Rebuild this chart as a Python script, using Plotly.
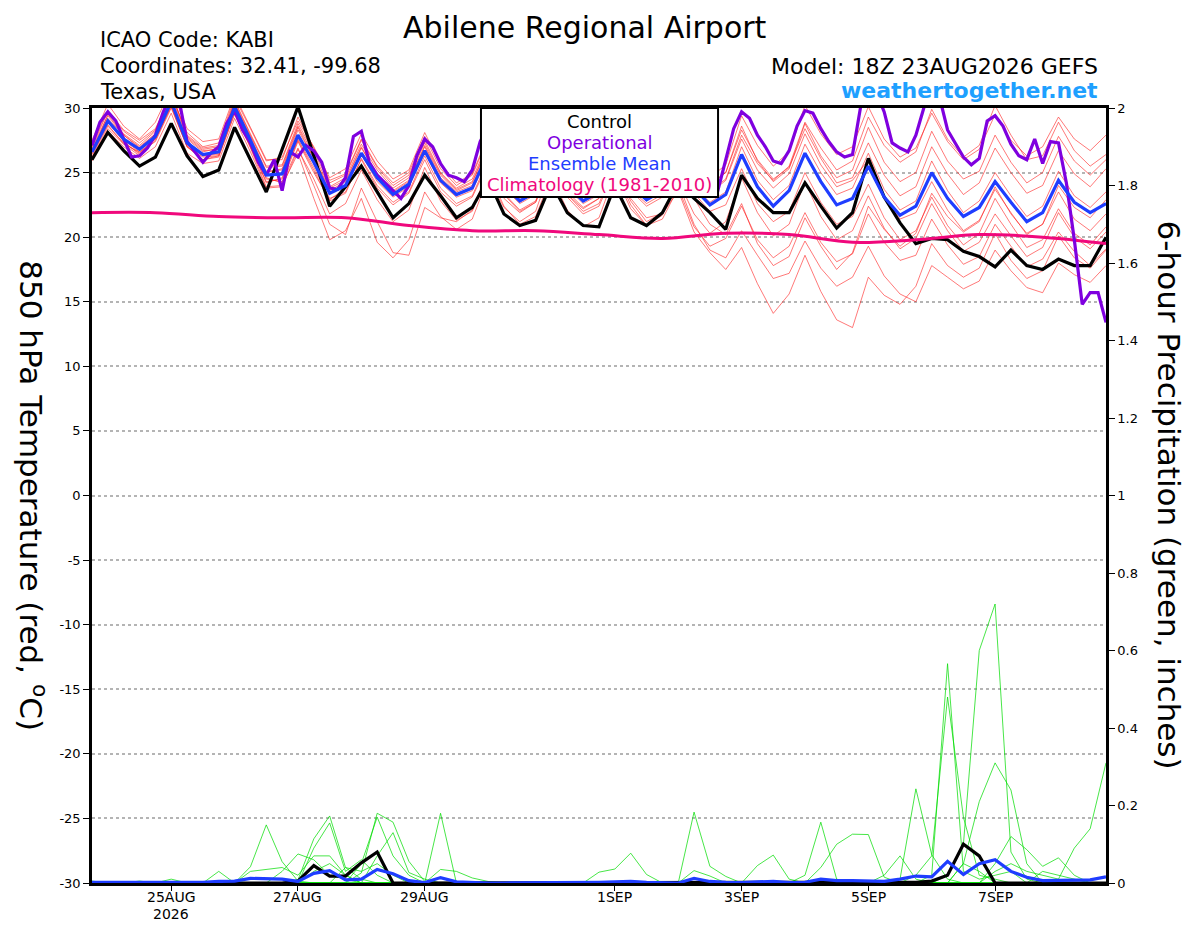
import pandas as pd
import plotly.graph_objects as go

# 6-hourly GEFS output from 23AUG2026 18Z, operational run every 3 hours
times6 = pd.date_range("2026-08-23 18:00", periods=65, freq="6h")
times3 = pd.date_range("2026-08-23 18:00", periods=129, freq="3h")
times24 = pd.date_range("2026-08-23 18:00", periods=17, freq="24h")

control_t = [26.0, 28.1, 26.7, 25.5, 26.2, 28.8, 26.3, 24.7, 25.2, 28.5,
             26.0, 23.5, 26.8, 30.1, 26.3, 22.4, 23.9, 25.5, 23.5, 21.5,
             22.6, 24.8, 23.2, 21.5, 22.3, 24.5, 21.8, 20.9, 21.3, 24.2,
             21.9, 20.9, 20.8, 24.0, 21.5, 20.9, 21.9, 24.2, 23.0, 21.9,
             20.6, 24.8, 23.0, 21.9, 21.9, 24.2, 22.4, 20.7, 21.9, 26.1,
             23.1, 21.1, 19.5, 19.9, 19.8, 18.9, 18.5, 17.7, 19.0, 17.8,
             17.5, 18.3, 17.8, 17.8, 20.0]

mean_t = [26.6, 29.0, 27.6, 26.8, 27.8, 30.5, 27.3, 26.4, 26.6, 30.1,
          27.5, 24.8, 24.9, 27.9, 25.8, 23.4, 24.0, 26.5, 24.6, 23.3,
          24.1, 26.7, 24.4, 23.3, 23.8, 26.5, 24.0, 22.8, 23.5, 26.5,
          24.0, 22.8, 23.5, 26.5, 24.0, 22.9, 23.6, 26.2, 23.8, 22.5,
          23.3, 26.4, 23.9, 22.4, 23.6, 26.5, 24.3, 22.5, 23.0, 25.5,
          23.1, 21.7, 22.4, 25.0, 23.0, 21.6, 22.3, 24.3, 22.7, 21.2,
          21.9, 24.4, 22.7, 21.9, 22.6]

oper_t = [27.1, 28.9, 29.7, 29.0, 27.6, 26.2, 26.3, 26.9, 27.9, 29.7,
          31.0, 30.6, 27.4, 26.6, 25.8, 26.5, 27.0, 28.8, 29.8, 28.3,
          27.3, 25.8, 24.8, 26.0, 23.6, 26.6, 26.2, 27.1, 26.7, 25.8,
          23.8, 23.7, 24.6, 27.8, 28.2, 25.8, 24.8, 24.2, 23.6, 23.0,
          24.0, 26.3, 27.6, 27.0, 25.7, 24.8, 24.6, 24.3, 25.2, 27.4,
          28.6, 28.0, 26.8, 25.9, 25.4, 25.2, 25.8, 27.2, 28.4, 28.0,
          26.9, 26.0, 25.6, 25.4, 25.9, 27.0, 28.1, 27.6, 26.5, 25.7,
          25.3, 25.1, 25.6, 26.8, 27.9, 27.3, 26.2, 25.0, 24.0, 23.6,
          25.9, 28.4, 29.7, 29.2, 27.9, 27.0, 25.9, 25.7, 26.7, 28.6,
          29.8, 29.6, 28.4, 27.4, 26.6, 26.2, 26.4, 30.0, 31.5, 31.2,
          29.7, 27.3, 26.9, 26.6, 27.9, 30.0, 31.5, 30.8, 28.3, 27.2,
          26.2, 25.6, 26.1, 29.0, 29.4, 28.6, 27.2, 26.3, 26.0, 27.6,
          25.7, 27.4, 27.3, 24.2, 19.8, 14.8, 15.7, 15.7, 13.4]

clim_t = [21.9, 21.9, 21.6, 21.5, 21.5, 20.9, 20.5, 20.5, 20.2,
          19.9, 20.3, 20.2, 19.6, 19.8, 20.2, 20.0, 19.5]

member_a = [27.2, 29.8, 28.3, 27.5, 28.4, 31.0, 28.1, 27.0, 27.3, 30.8, 28.4, 25.9, 26.2, 29.0, 27.0, 24.6, 25.3,
            28.0, 25.9, 24.5, 25.2, 28.1, 25.6, 24.2, 24.9, 27.8, 25.1, 23.9, 24.6, 27.9, 25.4, 24.0, 24.8,
            28.3, 25.6, 24.3, 25.0, 28.4, 25.8, 24.1, 25.0, 28.6, 25.9, 24.3, 25.3, 28.8, 26.3, 24.6, 25.2,
            28.5, 25.8, 24.3, 25.0, 28.2, 25.9, 24.5, 25.1, 27.9, 25.8, 24.2, 25.0, 27.8, 25.9, 24.8, 26.0]
member_b = [26.0, 28.2, 27.0, 26.1, 27.0, 29.6, 26.5, 25.7, 25.9, 29.2, 26.6, 23.8, 23.9, 26.8, 24.5, 21.8, 22.6,
            25.2, 22.9, 21.2, 22.1, 25.4, 22.8, 21.3, 22.0, 25.1, 22.4, 21.0, 21.6, 24.7, 22.1, 20.8, 21.5,
            24.9, 22.2, 20.9, 21.7, 24.4, 21.8, 20.3, 21.2, 24.6, 21.9, 20.1, 21.0, 24.3, 21.6, 19.8, 20.5,
            23.2, 20.7, 19.1, 19.9, 22.6, 20.5, 18.9, 19.6, 21.8, 20.1, 18.5, 19.2, 21.9, 20.0, 19.1, 20.4]
member_c = [26.4, 28.7, 27.2, 26.3, 27.5, 30.2, 27.0, 26.0, 26.2, 29.6, 26.9, 23.9, 24.0, 26.5, 23.0, 19.8, 20.5,
            23.0, 19.6, 18.4, 19.8, 23.5, 21.6, 20.6, 21.4, 24.6, 22.3, 21.2, 22.0, 25.5, 23.3, 22.2, 23.0,
            26.0, 23.6, 22.4, 23.1, 25.8, 23.0, 21.0, 20.2, 22.6, 19.5, 17.8, 18.5, 21.5, 19.3, 17.5, 18.8,
            22.4, 20.6, 19.3, 20.3, 23.4, 21.6, 20.4, 21.2, 23.9, 21.8, 20.3, 21.0, 23.5, 21.4, 20.5, 21.8]
member_d = [26.8, 29.2, 27.9, 27.0, 28.0, 30.6, 27.6, 26.6, 26.9, 30.3, 27.8, 25.1, 25.2, 28.3, 26.1, 23.6, 24.3,
            26.9, 24.9, 23.6, 24.4, 27.0, 24.6, 23.5, 24.0, 26.8, 24.2, 23.0, 23.7, 26.9, 24.1, 22.9, 23.2,
            25.8, 23.0, 21.5, 21.8, 23.6, 20.4, 18.8, 17.5, 19.2, 16.4, 14.1, 15.6, 18.6, 15.8, 13.6, 13.0,
            16.9, 15.5, 14.8, 16.2, 19.5, 17.8, 16.9, 17.6, 20.3, 18.2, 16.8, 17.4, 20.1, 18.4, 17.6, 19.0]
member_e = [25.9, 28.4, 27.2, 26.6, 27.4, 30.0, 27.0, 26.0, 26.3, 29.8, 27.0, 24.3, 24.5, 27.5, 25.2, 22.8, 23.4,
            26.1, 24.0, 22.7, 23.5, 26.3, 23.8, 22.6, 23.2, 26.0, 23.4, 22.1, 22.8, 25.8, 23.3, 22.0, 22.6,
            25.5, 22.8, 21.2, 21.9, 24.2, 21.0, 19.0, 18.4, 20.5, 18.6, 16.8, 17.2, 19.7, 17.6, 16.2, 16.9,
            19.3, 17.0, 15.6, 15.0, 17.8, 16.9, 16.0, 16.6, 19.0, 17.4, 16.1, 15.7, 18.0, 17.1, 16.5, 17.8]
member_f = [27.5, 30.3, 28.6, 27.6, 28.9, 31.5, 28.4, 27.4, 27.6, 31.0, 28.5, 26.0, 26.0, 29.3, 26.9, 24.4, 24.9,
            27.6, 25.5, 24.2, 25.0, 27.8, 25.3, 24.0, 24.8, 27.6, 25.2, 23.9, 24.7, 27.6, 25.3, 24.0, 24.6,
            27.8, 25.4, 24.1, 24.9, 28.0, 25.9, 24.6, 25.6, 29.4, 27.1, 25.5, 26.6, 30.2, 28.0, 26.4, 27.0,
            30.1, 27.6, 26.2, 26.9, 29.6, 27.4, 26.0, 26.8, 29.5, 27.5, 26.3, 27.0, 29.3, 27.6, 26.7, 27.9]
member_g = [26.2, 28.9, 27.4, 26.4, 27.7, 30.4, 27.1, 26.3, 26.4, 29.9, 27.2, 24.5, 24.3, 27.4, 25.0, 22.9, 23.8,
            26.4, 24.3, 23.1, 23.9, 26.6, 24.2, 23.1, 23.6, 26.3, 23.8, 22.6, 23.3, 26.4, 23.8, 22.6, 23.3,
            26.4, 23.9, 22.8, 23.6, 26.4, 23.9, 22.7, 23.5, 27.0, 24.4, 22.9, 24.0, 27.2, 25.0, 23.3, 23.8,
            26.5, 23.7, 22.1, 22.8, 25.9, 23.6, 21.9, 22.8, 25.0, 23.2, 21.6, 22.4, 25.1, 23.2, 22.3, 23.5]
member_h = [26.5, 29.5, 28.0, 27.1, 28.2, 31.2, 27.8, 26.8, 27.0, 30.5, 27.9, 25.4, 25.5, 28.6, 26.4, 23.9, 24.6,
            27.2, 25.2, 23.8, 24.6, 27.3, 24.9, 23.7, 24.3, 27.1, 24.7, 23.4, 24.2, 27.2, 24.6, 23.4, 24.1,
            27.0, 24.5, 23.4, 24.3, 27.1, 24.6, 23.4, 24.4, 27.6, 25.2, 23.8, 24.9, 28.0, 25.6, 23.9, 24.4,
            26.0, 23.2, 21.4, 21.9, 24.3, 22.1, 20.5, 21.3, 23.7, 21.9, 20.2, 21.0, 24.0, 22.3, 21.5, 22.9]
member_i = [26.1, 28.6, 27.3, 26.5, 27.6, 30.1, 27.0, 26.2, 26.3, 29.5, 27.0, 24.2, 24.6, 27.6, 25.4, 23.0, 23.5,
            26.0, 23.8, 22.5, 23.4, 26.0, 23.5, 22.4, 23.1, 25.7, 23.3, 22.0, 22.7, 25.6, 23.1, 21.8, 22.4,
            25.2, 22.5, 20.9, 21.4, 23.8, 20.8, 19.3, 19.9, 22.4, 19.8, 18.4, 19.3, 21.9, 19.6, 18.1, 18.7,
            21.8, 19.6, 18.2, 18.6, 21.4, 19.4, 17.9, 18.5, 21.0, 19.3, 17.7, 18.3, 20.4, 18.9, 17.8, 19.1]
member_j = [26.9, 29.4, 27.9, 26.9, 28.0, 30.9, 27.7, 26.7, 26.8, 30.4, 27.6, 25.0, 25.3, 28.5, 26.1, 23.8, 24.4,
            27.0, 24.8, 23.5, 24.3, 27.1, 24.8, 23.6, 24.2, 27.0, 24.6, 23.3, 24.0, 27.1, 24.6, 23.3, 24.0,
            27.2, 24.7, 23.5, 24.2, 27.3, 24.9, 23.6, 24.5, 27.9, 25.7, 24.4, 25.5, 28.9, 26.9, 25.2, 25.9,
            29.3, 27.1, 25.8, 26.6, 29.9, 27.6, 26.2, 27.1, 30.2, 27.9, 26.0, 26.3, 28.9, 26.7, 25.5, 26.4]
member_k = [26.7, 29.1, 27.5, 26.6, 27.6, 30.3, 27.3, 26.3, 26.5, 29.8, 27.1, 24.6, 24.2, 26.9, 24.0, 21.0, 20.2,
            23.8, 21.2, 18.8, 18.6, 22.3, 21.5, 21.2, 22.1, 25.2, 23.0, 21.9, 22.7, 25.9, 23.5, 22.3, 23.0,
            26.1, 23.7, 22.6, 23.3, 26.0, 23.4, 22.0, 22.5, 25.3, 22.6, 21.2, 22.0, 25.0, 22.7, 21.0, 21.6,
            24.1, 21.5, 19.8, 20.5, 23.1, 20.9, 19.4, 20.3, 23.0, 21.0, 19.2, 19.8, 22.2, 20.3, 19.4, 20.8]
member_l = [27.0, 29.7, 28.2, 27.3, 28.3, 31.1, 27.9, 26.9, 27.1, 30.6, 28.0, 25.5, 25.6, 28.8, 26.6, 24.2, 24.8,
            27.5, 25.4, 24.0, 24.8, 27.5, 25.0, 23.8, 24.5, 27.3, 24.9, 23.6, 24.4, 27.4, 24.9, 23.7, 24.4,
            27.5, 25.1, 23.9, 24.6, 27.6, 25.3, 24.1, 25.0, 28.3, 26.0, 24.5, 25.4, 28.4, 26.1, 24.2, 24.6,
            27.3, 24.8, 23.2, 23.9, 27.0, 24.9, 23.3, 24.2, 26.9, 25.0, 23.4, 24.0, 26.7, 24.9, 23.9, 25.3]
members_t = [member_a, member_b, member_c, member_d, member_e, member_f,
             member_g, member_h, member_i, member_j, member_k, member_l]

# 6-hour precipitation (inches)
control_p = [0, 0, 0, 0, 0, 0, 0, 0, 0, 0,
             0, 0, 0, 0.005, 0.045, 0.018, 0.018, 0.052, 0.08, 0,
             0, 0, 0, 0, 0, 0, 0, 0, 0, 0,
             0, 0, 0, 0, 0, 0, 0, 0, 0, 0,
             0, 0, 0, 0, 0, 0, 0, 0, 0, 0,
             0, 0, 0.002, 0.005, 0.02, 0.1, 0.07, 0, 0, 0,
             0, 0, 0, 0, 0]
mean_p = [0.002, 0.002, 0.001, 0.002, 0.001, 0.003, 0.001, 0.002, 0.004, 0.005,
          0.012, 0.012, 0.01, 0.004, 0.025, 0.032, 0.008, 0.01, 0.035, 0.024,
          0.006, 0.001, 0.014, 0.003, 0.001, 0, 0, 0, 0, 0,
          0, 0, 0.002, 0.003, 0.004, 0.002, 0, 0, 0.012, 0.004,
          0.002, 0.001, 0.003, 0.004, 0.001, 0.002, 0.01, 0.006, 0.006, 0.006,
          0.004, 0.01, 0.018, 0.016, 0.056, 0.022, 0.05, 0.06, 0.03, 0.015,
          0.006, 0.007, 0.007, 0.008, 0.016]

precip_1 = [0.005, 0, 0, 0, 0, 0.01, 0, 0, 0.03, 0,
            0.042, 0.15, 0.055, 0.005, 0, 0, 0, 0, 0, 0,
            0, 0, 0, 0, 0, 0, 0, 0, 0, 0,
            0, 0, 0.028, 0.036, 0.077, 0.022, 0, 0, 0, 0,
            0, 0, 0, 0, 0, 0, 0, 0, 0, 0,
            0, 0, 0, 0, 0, 0, 0, 0, 0, 0,
            0, 0, 0, 0, 0]
precip_2 = [0, 0, 0, 0, 0, 0, 0, 0, 0, 0,
            0, 0, 0.03, 0.075, 0.06, 0.02, 0.01, 0, 0, 0,
            0, 0, 0, 0, 0, 0, 0, 0, 0, 0,
            0, 0, 0, 0, 0, 0, 0, 0, 0.183, 0.043,
            0.017, 0, 0, 0, 0, 0, 0, 0, 0, 0,
            0, 0, 0, 0, 0, 0, 0, 0, 0, 0,
            0, 0, 0, 0, 0]
precip_3 = [0, 0, 0, 0, 0, 0, 0, 0, 0, 0,
            0, 0, 0, 0.008, 0.114, 0.173, 0.04, 0.01, 0, 0,
            0, 0, 0, 0, 0, 0, 0, 0, 0, 0,
            0, 0, 0, 0, 0, 0, 0, 0, 0.032, 0.018,
            0, 0, 0.045, 0.072, 0.01, 0, 0, 0, 0, 0,
            0, 0, 0, 0, 0, 0, 0, 0, 0, 0,
            0, 0, 0, 0, 0]
precip_4 = [0, 0, 0, 0, 0, 0, 0, 0, 0, 0,
            0, 0, 0, 0, 0.09, 0.155, 0.03, 0.06, 0.02, 0,
            0, 0, 0, 0, 0, 0, 0, 0, 0, 0,
            0, 0, 0, 0, 0, 0, 0, 0, 0, 0,
            0, 0, 0, 0, 0, 0.02, 0.157, 0.01, 0, 0,
            0, 0, 0, 0, 0, 0, 0, 0, 0, 0,
            0, 0, 0, 0, 0]
precip_5 = [0, 0, 0, 0, 0, 0, 0, 0, 0, 0,
            0.03, 0.035, 0.04, 0.02, 0.07, 0.07, 0.02, 0, 0, 0,
            0, 0, 0, 0, 0, 0, 0, 0, 0, 0,
            0, 0, 0, 0, 0, 0, 0, 0, 0, 0,
            0, 0, 0, 0, 0, 0, 0.04, 0.10, 0.126, 0.125,
            0.015, 0, 0, 0, 0, 0, 0, 0, 0, 0,
            0, 0, 0, 0, 0]
precip_6 = [0, 0, 0, 0, 0, 0, 0, 0, 0, 0,
            0, 0, 0, 0, 0, 0, 0, 0.026, 0.18, 0.157,
            0.056, 0.004, 0, 0, 0, 0, 0, 0, 0, 0,
            0, 0, 0, 0, 0, 0, 0, 0, 0, 0,
            0, 0, 0, 0, 0, 0, 0, 0, 0, 0,
            0.02, 0.07, 0.01, 0, 0, 0.05, 0.03, 0, 0, 0,
            0.03, 0.02, 0.01, 0, 0]
precip_7 = [0, 0, 0, 0, 0, 0, 0, 0, 0, 0,
            0, 0, 0, 0, 0, 0, 0, 0.05, 0.17, 0.07,
            0.02, 0, 0, 0, 0, 0, 0, 0, 0, 0,
            0, 0, 0, 0, 0, 0, 0, 0, 0, 0,
            0, 0, 0, 0, 0, 0, 0, 0, 0, 0,
            0, 0.01, 0.243, 0.073, 0.01, 0, 0, 0.05, 0.12, 0.086,
            0.043, 0.065, 0.02, 0, 0]
precip_8 = [0, 0, 0, 0, 0, 0, 0, 0, 0, 0,
            0, 0, 0, 0, 0, 0, 0, 0, 0.07, 0.13,
            0.027, 0.01, 0, 0, 0, 0, 0, 0, 0, 0,
            0, 0, 0, 0, 0, 0, 0, 0, 0, 0,
            0, 0, 0, 0, 0, 0, 0, 0, 0, 0,
            0, 0, 0, 0.02, 0.566, 0.03, 0.01, 0.02, 0.03, 0,
            0, 0, 0, 0, 0]
precip_9 = [0, 0, 0, 0, 0, 0, 0, 0, 0, 0,
            0, 0, 0, 0, 0, 0, 0, 0, 0, 0,
            0, 0, 0.18, 0, 0, 0, 0, 0, 0, 0,
            0, 0, 0, 0, 0, 0, 0, 0, 0, 0,
            0, 0, 0, 0, 0, 0, 0, 0, 0, 0,
            0, 0, 0.02, 0.07, 0.48, 0.17, 0.02, 0.01, 0, 0,
            0, 0, 0, 0, 0]
precip_10 = [0, 0, 0, 0, 0, 0, 0, 0, 0, 0,
             0, 0, 0, 0, 0, 0, 0, 0, 0, 0,
             0, 0, 0.035, 0.03, 0.013, 0.004, 0, 0, 0, 0,
             0, 0, 0, 0, 0, 0, 0, 0, 0, 0,
             0, 0, 0, 0, 0, 0, 0, 0, 0, 0,
             0, 0, 0, 0, 0.02, 0.1, 0.60, 0.72, 0.08, 0.01,
             0, 0, 0, 0, 0]
precip_11 = [0, 0.003, 0, 0.005, 0, 0, 0, 0, 0, 0.004,
             0, 0, 0, 0, 0, 0, 0.04, 0.03, 0.05, 0.02,
             0, 0, 0, 0, 0, 0, 0, 0, 0, 0,
             0, 0, 0, 0, 0, 0, 0, 0, 0, 0,
             0, 0, 0, 0, 0, 0, 0, 0, 0, 0,
             0, 0, 0, 0, 0, 0.05, 0.21, 0.31, 0.24, 0.05,
             0, 0, 0, 0, 0]
precip_12 = [0, 0, 0, 0, 0, 0, 0, 0, 0, 0,
             0, 0, 0, 0, 0.03, 0.05, 0.02, 0, 0, 0,
             0, 0, 0, 0, 0, 0, 0, 0, 0, 0,
             0, 0, 0, 0, 0, 0, 0, 0, 0, 0,
             0, 0, 0, 0, 0, 0, 0, 0, 0, 0,
             0, 0, 0, 0, 0, 0, 0, 0.03, 0.05, 0.03,
             0.02, 0.01, 0.09, 0.14, 0.31]
members_p = [precip_1, precip_2, precip_3, precip_4, precip_5, precip_6,
             precip_7, precip_8, precip_9, precip_10, precip_11, precip_12]

date_ticks = ["2026-08-25", "2026-08-27", "2026-08-29", "2026-09-01",
              "2026-09-03", "2026-09-05", "2026-09-07"]
date_labels = ["25AUG", "27AUG", "29AUG", "1SEP", "3SEP", "5SEP", "7SEP"]
year_label = "2026"
temp_ticks = [-30, -25, -20, -15, -10, -5, 0, 5, 10, 15, 20, 25, 30]
temp_labels = ["-30", "-25", "-20", "-15", "-10", "-5", "0", "5", "10", "15", "20", "25", "30"]
precip_ticks = [0, 0.2, 0.4, 0.6, 0.8, 1, 1.2, 1.4, 1.6, 1.8, 2]
precip_labels = ["0", "0.2", "0.4", "0.6", "0.8", "1", "1.2", "1.4", "1.6", "1.8", "2"]

legend_lines = ["Control", "Operational", "Ensemble Mean", "Climatology (1981-2010)"]

FONT = "DejaVu Sans"
RED = "rgba(255,30,30,0.75)"
GREEN = "rgba(0,220,0,0.9)"
PURPLE = "#7f00df"
BLUE = "#1f3dff"
PINK = "#f0087c"
WEB = "#1ea0ff"
legend_colors = ["black", PURPLE, BLUE, PINK]

fig = go.Figure()

for m in members_t:
    fig.add_trace(go.Scatter(x=times6, y=m, mode="lines",
                             line=dict(color=RED, width=0.8)))
fig.add_trace(go.Scatter(x=times6, y=control_t, mode="lines",
                         line=dict(color="black", width=3.2)))
fig.add_trace(go.Scatter(x=times24, y=clim_t, mode="lines",
                         line=dict(color=PINK, width=3, shape="spline")))
fig.add_trace(go.Scatter(x=times3, y=oper_t, mode="lines",
                         line=dict(color=PURPLE, width=3.2)))
fig.add_trace(go.Scatter(x=times6, y=mean_t, mode="lines",
                         line=dict(color=BLUE, width=3.2)))

for p in members_p:
    fig.add_trace(go.Scatter(x=times6, y=p, mode="lines", yaxis="y2",
                             line=dict(color=GREEN, width=0.8)))
fig.add_trace(go.Scatter(x=times6, y=control_p, mode="lines", yaxis="y2",
                         line=dict(color="black", width=3.2)))
fig.add_trace(go.Scatter(x=times6, y=mean_p, mode="lines", yaxis="y2",
                         line=dict(color=BLUE, width=3.2)))

# the page body adds an 8px margin, so the figure is 8px smaller on each side
fig.update_layout(
    width=1192, height=919,
    margin=dict(l=84, r=94, t=100, b=44, autoexpand=False),
    paper_bgcolor="white", plot_bgcolor="white",
    showlegend=False,
    font=dict(family=FONT, color="black"),
    xaxis=dict(type="date", range=[times6[0], times6[-1]],
               tickvals=date_ticks, showticklabels=False,
               ticks="outside", ticklen=5,
               tickcolor="black", showgrid=False, zeroline=False,
               showline=True, linecolor="black", linewidth=2.5, mirror=True),
    yaxis=dict(range=[-30, 30], tickvals=temp_ticks, ticktext=temp_labels,
               tickfont=dict(size=13), ticks="outside", ticklen=6,
               tickcolor="black", showgrid=True, gridcolor="#b4b4b4",
               griddash="dot", gridwidth=1.5, zeroline=False,
               showline=True, linecolor="black", linewidth=2.5),
    yaxis2=dict(range=[0, 2], overlaying="y", side="right",
                tickvals=precip_ticks, ticktext=precip_labels,
                tickfont=dict(size=13), ticks="outside", ticklen=6,
                tickcolor="black", showgrid=False, zeroline=False,
                showline=True, linecolor="black", linewidth=2.5),
)

# date labels under the ticks, with the year under the first one
for d, lab in zip(date_ticks, date_labels):
    fig.add_annotation(text=lab, xref="x", yref="paper",
                       x=d, y=-0.018, xanchor="center", yanchor="middle",
                       showarrow=False, font=dict(size=14))
fig.add_annotation(text=year_label, xref="x", yref="paper",
                   x=date_ticks[0], y=-0.04, xanchor="center", yanchor="middle",
                   showarrow=False, font=dict(size=14))

# header text
fig.add_annotation(text="Abilene Regional Airport", xref="paper", yref="paper",
                   x=0.486, y=1.129, xanchor="center", yanchor="top",
                   showarrow=False, font=dict(size=30))
fig.add_annotation(text="ICAO Code: KABI", xref="paper", yref="paper",
                   x=0.006, y=1.088, xanchor="left", yanchor="middle",
                   showarrow=False, font=dict(size=21))
fig.add_annotation(text="Coordinates: 32.41, -99.68", xref="paper", yref="paper",
                   x=0.006, y=1.054, xanchor="left", yanchor="middle",
                   showarrow=False, font=dict(size=21))
fig.add_annotation(text="Texas, USA", xref="paper", yref="paper",
                   x=0.006, y=1.021, xanchor="left", yanchor="middle",
                   showarrow=False, font=dict(size=21))
fig.add_annotation(text="Model: 18Z 23AUG2026 GEFS", xref="paper", yref="paper",
                   x=0.994, y=1.054, xanchor="right", yanchor="middle",
                   showarrow=False, font=dict(size=22))
fig.add_annotation(text="<b>weathertogether.net</b>", xref="paper", yref="paper",
                   x=0.994, y=1.023, xanchor="right", yanchor="middle",
                   showarrow=False, font=dict(size=22, color=WEB))

# axis titles, both read top to bottom
fig.add_annotation(text="850 hPa Temperature (red, <sup>o</sup>C)",
                   xref="paper", yref="paper", x=-0.058, y=0.5,
                   xanchor="center", yanchor="middle", textangle=90,
                   showarrow=False, font=dict(size=31))
fig.add_annotation(text="6-hour Precipitation (green, inches)",
                   xref="paper", yref="paper", x=1.063, y=0.5,
                   xanchor="center", yanchor="middle", textangle=90,
                   showarrow=False, font=dict(size=31))

# legend box over the top of the plot
fig.add_shape(type="rect", xref="paper", yref="paper",
              x0=0.3836, x1=0.6174, y0=0.8852, y1=1.0,
              fillcolor="white", line=dict(color="black", width=2),
              layer="above")
legend_y = [0.983, 0.956, 0.929, 0.901]
for txt, col, yy in zip(legend_lines, legend_colors, legend_y):
    fig.add_annotation(text=txt, xref="paper", yref="paper",
                       x=0.5005, y=yy, xanchor="center", yanchor="middle",
                       showarrow=False, font=dict(size=18, color=col))

fig.write_html("out.html")
